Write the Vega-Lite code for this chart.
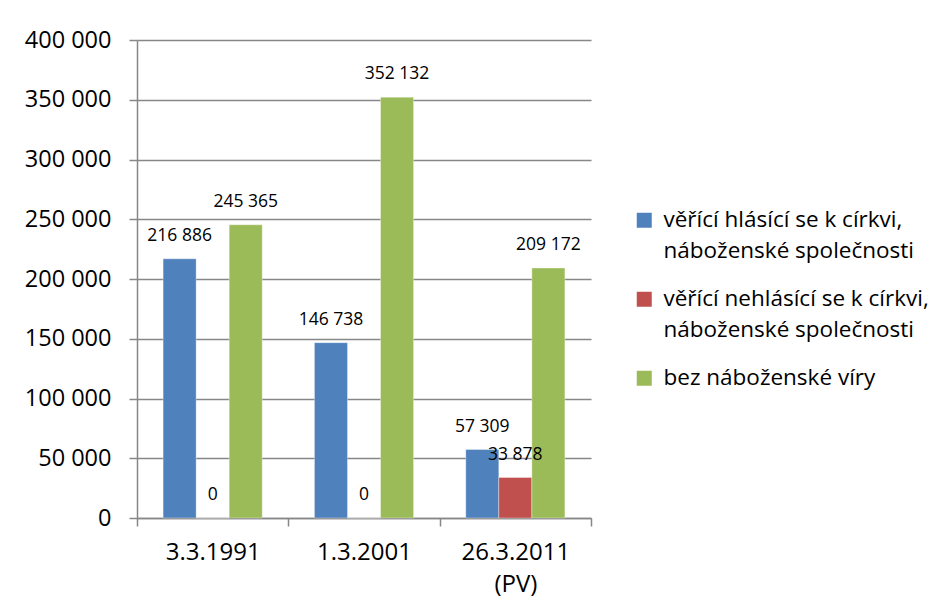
{
  "$schema": "https://vega.github.io/schema/vega-lite/v6.json",
  "width": 454,
  "height": 478,
  "autosize": {"type": "none"},
  "padding": {"left": 137, "top": 40, "right": 360, "bottom": 92},
  "background": "white",
  "config": {
    "font": "Open Sans",
    "locale": {"number": {"decimal": ",", "thousands": " ", "grouping": [3], "currency": ["", " Kč"]}},
    "view": {"stroke": null},
    "text": {"color": "black"},
    "style": {"guide-label": {"lineHeight": 31}}
  },
  "data": {
    "values": [
      {"datum": "3.3.1991", "series": "věřící hlásící se k církvi, náboženské společnosti", "value": 216886},
      {"datum": "3.3.1991", "series": "věřící nehlásící se k církvi, náboženské společnosti", "value": 0},
      {"datum": "3.3.1991", "series": "bez náboženské víry", "value": 245365},
      {"datum": "1.3.2001", "series": "věřící hlásící se k církvi, náboženské společnosti", "value": 146738},
      {"datum": "1.3.2001", "series": "věřící nehlásící se k církvi, náboženské společnosti", "value": 0},
      {"datum": "1.3.2001", "series": "bez náboženské víry", "value": 352132},
      {"datum": "26.3.2011 (PV)", "series": "věřící hlásící se k církvi, náboženské společnosti", "value": 57309},
      {"datum": "26.3.2011 (PV)", "series": "věřící nehlásící se k církvi, náboženské společnosti", "value": 33878},
      {"datum": "26.3.2011 (PV)", "series": "bez náboženské víry", "value": 209172}
    ]
  },
  "encoding": {
    "x": {
      "field": "datum",
      "type": "nominal",
      "sort": null,
      "scale": {"paddingInner": 0, "paddingOuter": 0},
      "axis": {
        "title": null,
        "labelAngle": 0,
        "tickBand": "extent",
        "ticks": true,
        "tickSize": 8,
        "tickColor": "#878787",
        "tickWidth": 1.5,
        "domainColor": "#878787",
        "domainWidth": 1.5,
        "labelFontSize": 24,
        "labelColor": "black",
        "labelPadding": 14,
        "labelBaseline": "top",
        "labelLineHeight": 32,
        "labelExpr": "split(datum.label, ' ')",
        "grid": false
      }
    },
    "xOffset": {
      "field": "series",
      "type": "nominal",
      "sort": ["věřící hlásící se k církvi, náboženské společnosti", "věřící nehlásící se k církvi, náboženské společnosti", "bez náboženské víry"],
      "scale": {"paddingInner": 0, "paddingOuter": 0.79}
    },
    "y": {
      "field": "value",
      "type": "quantitative",
      "scale": {"domain": [0, 400000], "nice": false},
      "axis": {
        "title": null,
        "values": [0, 50000, 100000, 150000, 200000, 250000, 300000, 350000, 400000],
        "format": ",d",
        "tickSize": 8,
        "tickColor": "#878787",
        "tickWidth": 1.5,
        "domainColor": "#878787",
        "domainWidth": 1.5,
        "grid": true,
        "gridColor": "#878787",
        "gridWidth": 1.5,
        "labelFontSize": 23.5,
        "labelColor": "black",
        "labelPadding": 18
      }
    }
  },
  "layer": [
    {
      "mark": {"type": "bar", "stroke": "white", "strokeWidth": 0.6, "strokeOpacity": 0.6},
      "encoding": {
        "color": {
          "field": "series",
          "type": "nominal",
          "scale": {
            "domain": ["věřící hlásící se k církvi, náboženské společnosti", "věřící nehlásící se k církvi, náboženské společnosti", "bez náboženské víry"],
            "range": ["#4F81BD", "#C0504D", "#9BBB59"]
          },
          "legend": {
            "title": null,
            "orient": "none",
            "legendX": 496,
            "legendY": 169,
            "symbolType": "square",
            "symbolSize": 225,
            "symbolStrokeWidth": 0,
            "symbolOpacity": 1,
            "labelFontSize": 22.5,
            "labelColor": "black",
            "labelLimit": 0,
            "labelOffset": 8,
            "rowPadding": 25,
            "labelExpr": "indexof(datum.label, ', ') > 0 ? ['\u00a0' + substring(datum.label, 0, indexof(datum.label, ', ') + 1), substring(datum.label, indexof(datum.label, ', ') + 2)] : '\u00a0' + datum.label"
          }
        }
      }
    },
    {
      "mark": {"type": "text", "baseline": "alphabetic", "dy": -18, "fontSize": 17.5, "color": "black"},
      "encoding": {
        "text": {"field": "value", "type": "quantitative", "format": ",d"}
      }
    }
  ]
}
